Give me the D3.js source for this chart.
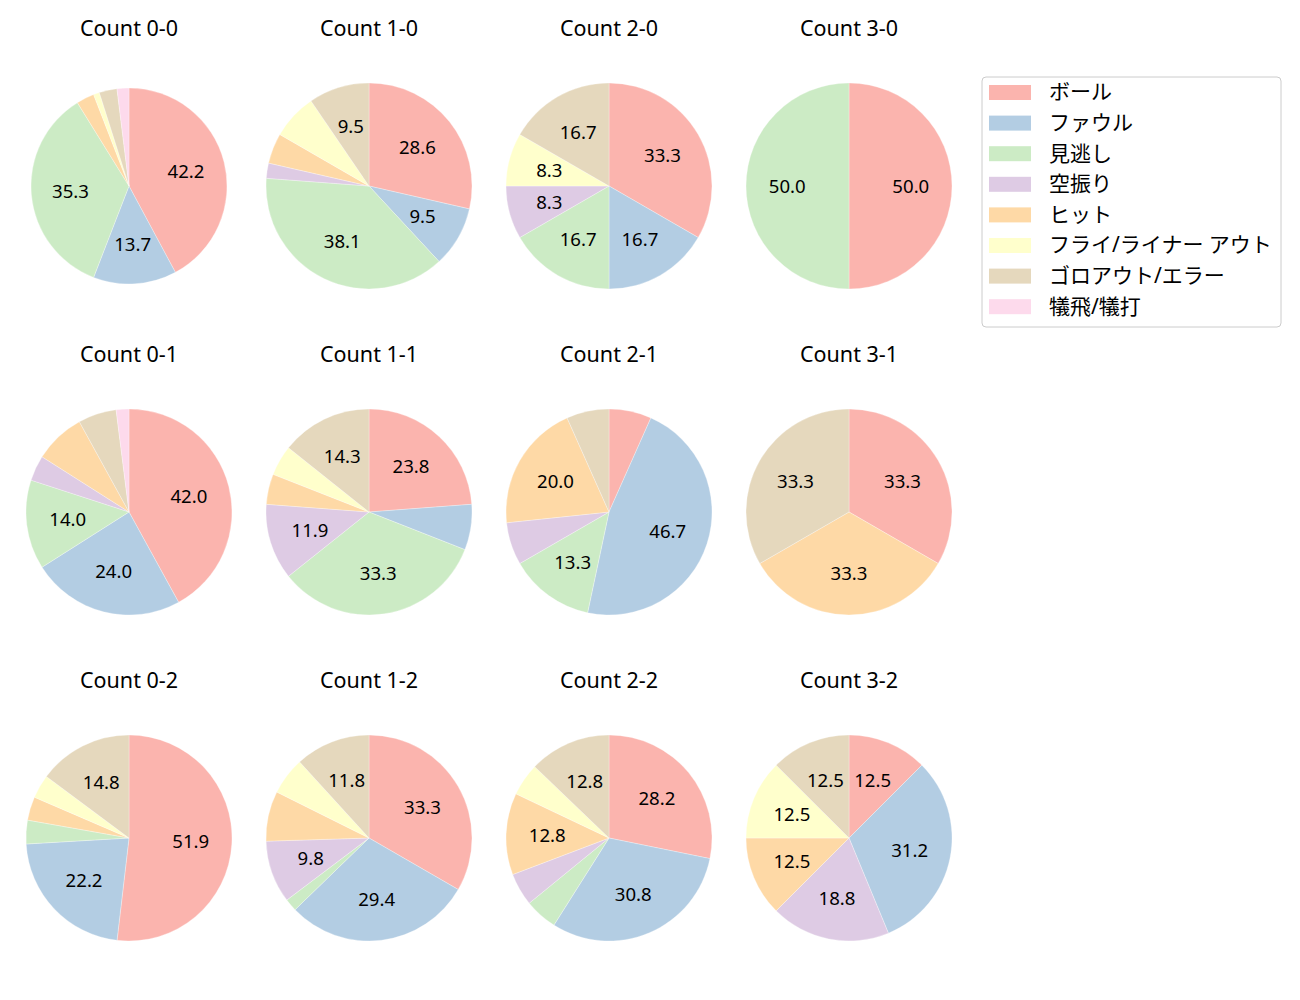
<!DOCTYPE html>
<meta charset="utf-8">
<style>
body { margin: 0; background: #fff; }
svg text { font-family: 'Noto Sans', 'Noto Sans CJK JP', sans-serif; fill: #000; }
.wedge { stroke: #fff; stroke-width: 0.3; }
</style>
<body>
<svg width="1300" height="1000"></svg>
<script src="https://cdn.jsdelivr.net/npm/d3@7"></script>
<script>

// categories (legend order) and pastel colours
var categories = ["ボール", "ファウル", "見逃し", "空振り", "ヒット", "フライ/ライナー アウト", "ゴロアウト/エラー", "犠飛/犠打"];
var colors = ["#fbb4ae", "#b3cde3", "#ccebc5", "#decbe4", "#fed9a6", "#ffffcc", "#e5d8bd", "#fddaec"];

// panel titles, row by row
var titles = ["Count 0-0", "Count 1-0", "Count 2-0", "Count 3-0",
              "Count 0-1", "Count 1-1", "Count 2-1", "Count 3-1",
              "Count 0-2", "Count 1-2", "Count 2-2", "Count 3-2"];

// pitch counts per category, same order as categories
var c00 = [43, 14, 36, 0, 3, 1, 3, 2];
var c10 = [12, 4, 16, 1, 2, 3, 4, 0];
var c20 = [4, 2, 2, 1, 0, 1, 2, 0];
var c30 = [1, 0, 1, 0, 0, 0, 0, 0];
var c01 = [21, 12, 7, 2, 4, 0, 3, 1];
var c11 = [10, 3, 14, 5, 2, 2, 6, 0];
var c21 = [1, 7, 2, 1, 3, 0, 1, 0];
var c31 = [1, 0, 0, 0, 1, 0, 1, 0];
var c02 = [14, 6, 1, 0, 1, 1, 4, 0];
var c12 = [17, 15, 1, 5, 4, 3, 6, 0];
var c22 = [11, 12, 2, 2, 5, 2, 5, 0];
var c32 = [2, 5, 0, 3, 2, 2, 2, 0];
var counts = [c00, c10, c20, c30, c01, c11, c21, c31, c02, c12, c22, c32];

var svg = d3.select("svg");

var xCol = d3.scaleLinear().domain([0, 3]).range([129, 849]);
var yRow = d3.scaleLinear().domain([0, 2]).range([186, 838]);
var color = d3.scaleOrdinal().domain(categories).range(colors);

var pie = d3.pie().sort(null).value(function(d) { return d; })
    .startAngle(0).endAngle(2 * Math.PI);

// percent text like python's "%.1f" (round half to even)
function fmt(p) {
  var v = p * 10, r = Math.round(v);
  if (Math.abs(v - Math.floor(v) - 0.5) < 1e-9 && r % 2) r -= 1;
  return (r / 10).toFixed(1);
}

counts.forEach(function(vals, i) {
  var cx = xCol(i % 4), cy = yRow(Math.floor(i / 4));
  var r = i === 0 ? 98 : 103;
  var total = d3.sum(vals);
  var arc = d3.arc().innerRadius(0).outerRadius(r);
  var labelArc = d3.arc().innerRadius(r * 0.6).outerRadius(r * 0.6);

  var g = svg.append("g").attr("transform", "translate(" + cx + "," + cy + ")");

  var arcs = pie(vals).filter(function(d) { return d.value > 0; });

  g.selectAll("path")
    .data(arcs)
    .enter().append("path")
      .attr("class", "wedge")
      .attr("d", arc)
      .attr("fill", function(d) { return colors[d.index]; });

  g.selectAll(".pct")
    .data(arcs.filter(function(d) { return d.value / total * 100 > 8.1; }))
    .enter().append("text")
      .attr("class", "pct")
      .attr("transform", function(d) { return "translate(" + labelArc.centroid(d) + ")"; })
      .attr("text-anchor", "middle")
      .attr("dy", "0.35em")
      .style("font-size", "18.6px")
      .text(function(d) { return fmt(d.value / total * 100); });

  svg.append("text")
    .attr("x", cx)
    .attr("y", cy - 150)
    .attr("text-anchor", "middle")
    .style("font-size", "21.5px")
    .text(titles[i]);
});

// legend
var lg = svg.append("g").attr("transform", "translate(982,77)");
lg.append("rect")
  .attr("width", 299).attr("height", 250)
  .attr("rx", 4)
  .attr("fill", "#fff")
  .attr("stroke", "#cccccc");

var item = lg.selectAll(".item")
  .data(categories)
  .enter().append("g")
    .attr("class", "item")
    .attr("transform", function(d, i) { return "translate(0," + (15 + i * 30.6) + ")"; });

item.append("rect")
  .attr("x", 7).attr("y", -7)
  .attr("width", 42).attr("height", 15)
  .attr("fill", function(d) { return color(d); });

item.append("text")
  .attr("x", 67)
  .attr("dy", "0.35em")
  .style("font-size", "21px")
  .text(function(d) { return d; });

</script>
</body>
